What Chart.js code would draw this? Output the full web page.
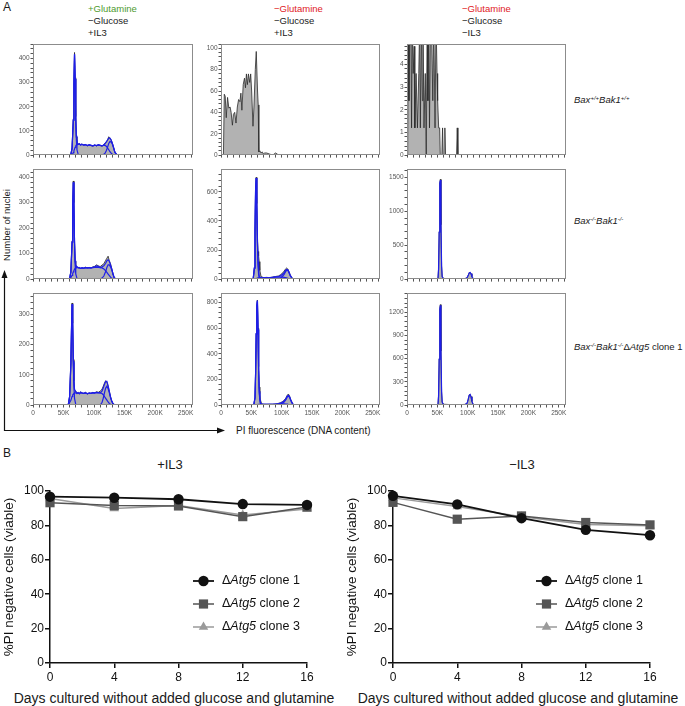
<!DOCTYPE html>
<html lang='en'>
<head>
<meta charset='UTF-8'>
<title>Cell cycle histograms and viability</title>
<script src='https://cdn.jsdelivr.net/npm/chart.js@4.4.1/dist/chart.umd.min.js'></script>
<style>
  body { margin: 0; background: #fff; font-family: 'Liberation Sans', Arial, sans-serif; color: #1a1a1a; }
  #fig { position: relative; width: 685px; height: 706px; overflow: hidden; background: #fff; }
  #fig canvas, .lbl { position: absolute; }
  .lbl { white-space: nowrap; }
  .hdr { top: 3px; font-size: 9.5px; line-height: 12px; color: #1a1a1a; }
  .rowlbl { left: 574px; font-size: 9.5px; line-height: 12px; }
  .rowlbl sup { font-size: 6px; vertical-align: 3.5px; line-height: 0; }
  .mid { transform: translate(-50%, -50%); }
</style>
</head>
<body>
<div id='fig'>
  <div class='lbl' style='left:3px;top:0px;font-size:12px'>A</div>
  <div class='lbl' style='left:3px;top:446px;font-size:12px'>B</div>

  <div class='lbl hdr' style='left:88px'><div style='color:#4e9a2e'>+Glutamine</div><div>&minus;Glucose</div><div>+IL3</div></div>
  <div class='lbl hdr' style='left:274px'><div style='color:#e0201e'>&minus;Glutamine</div><div>&minus;Glucose</div><div>+IL3</div></div>
  <div class='lbl hdr' style='left:462px'><div style='color:#e0201e'>&minus;Glutamine</div><div>&minus;Glucose</div><div>&minus;IL3</div></div>

  <div class='lbl rowlbl' style='top:94px'><i>Bax<sup>+/+</sup>Bak1<sup>+/+</sup></i></div>
  <div class='lbl rowlbl' style='top:215px'><i>Bax<sup>-/-</sup>Bak1<sup>-/-</sup></i></div>
  <div class='lbl rowlbl' style='top:341px'><i>Bax<sup>-/-</sup>Bak1<sup>-/-</sup></i>&Delta;<i>Atg5</i> clone 1</div>

  <div class='lbl' style='left:6px;top:225px;font-size:9.5px;transform:translate(-50%,-50%) rotate(-90deg)'>Number of nuclei</div>
  <div class='lbl' style='left:236px;top:425px;font-size:10px'>PI fluorescence (DNA content)</div>
  <svg class='lbl' style='left:0;top:0' width='685' height='706'>
    <line x1='4.5' y1='431' x2='4.5' y2='276' stroke='#111' stroke-width='1.2'/>
    <polygon points='4.5,270 1.5,278 7.5,278' fill='#111'/>
    <line x1='4' y1='430.5' x2='219' y2='430.5' stroke='#111' stroke-width='1.2'/>
    <polygon points='225,430.5 217,427.5 217,433.5' fill='#111'/>
  </svg>

  <div class='lbl mid' style='left:170px;top:464px;font-size:13px'>+IL3</div>
  <div class='lbl mid' style='left:522px;top:464px;font-size:13px'>&minus;IL3</div>
  <div class='lbl mid' style='left:174px;top:698px;font-size:14px'>Days cultured without added glucose and glutamine</div>
  <div class='lbl mid' style='left:518px;top:698px;font-size:14px'>Days cultured without added glucose and glutamine</div>
</div>
<script>
  // ---- Panel A: PI histograms (x in thousands of PI units) ----
  let piTickLabels = ['0', '50K', '100K', '150K', '200K', '250K'];

  // +Gln -Glc +IL3, Bax+/+Bak1+/+
  let h11_x     = [58, 60, 62, 64, 66, 67, 68, 69, 70, 71, 72, 74, 76, 78, 80, 83, 86, 89, 92, 95, 98, 101, 104, 107, 110, 113, 116, 118, 120, 122, 124, 126, 128, 130, 132, 134, 137, 140];
  let h11_count = [0, 0, 4, 30, 150, 300, 425, 320, 160, 75, 50, 45, 48, 42, 46, 41, 44, 38, 43, 40, 37, 42, 38, 43, 40, 37, 44, 48, 54, 62, 76, 70, 63, 50, 32, 14, 3, 0];
  let h11_fit   = [0, 0, 3, 28, 145, 295, 418, 315, 155, 80, 52, 46, 46, 43, 45, 42, 43, 40, 42, 40, 38, 41, 39, 42, 40, 38, 42, 48, 55, 62, 70, 70, 62, 48, 30, 12, 2, 0];
  let h11_g1    = [null, 0, 3, 28, 145, 295, 418, 315, 150, 62, 22, 3, 0, null, null, null, null, null, null, null, null, null, null, null, null, null, null, null, null, null, null, null, null, null, null, null, null, null];
  let h11_s     = [null, null, null, 0, 10, 18, 25, 32, 38, 42, 45, 44, 46, 42, 44, 41, 43, 39, 42, 40, 38, 41, 39, 42, 40, 38, 41, 40, 37, 30, 22, 14, 8, 3, 0, null, null, null];
  let h11_g2    = [null, null, null, null, null, null, null, null, null, null, null, null, null, null, null, null, null, null, null, null, null, null, null, null, null, 0, 3, 8, 18, 32, 48, 56, 54, 45, 30, 12, 2, 0];

  // -Gln -Glc +IL3, Bax+/+Bak1+/+
  let h12_x     = [4, 5.4, 7, 8.6, 10.8, 12.9, 15, 16.7, 18.8, 20.4, 22.6, 24.7, 26.9, 29, 31.2, 32.8, 34.4, 36.6, 38.7, 40.3, 41.9, 43.5, 45.2, 47.3, 48.9, 50.5, 52.7, 54.3, 56.5, 58.1, 60.2, 61.3, 62.4, 64, 66, 68, 70, 72, 75, 80, 85, 90, 95, 100];
  let h12_count = [0, 57, 55, 35, 54, 44, 45, 40, 28, 38, 40, 30, 45, 52, 50, 58, 42, 66, 72, 63, 76, 66, 76, 68, 76, 60, 27, 45, 80, 97, 60, 47, 3, 4, 2, 3, 1, 2, 2, 1, 0, 2, 0, 0];

  // -Gln -Glc -IL3, Bax+/+Bak1+/+
  let h13_x     = [1.1, 2.2, 3.2, 4.8, 6.5, 7.5, 8.6, 10.2, 11.8, 12.9, 15, 17.2, 19.4, 21, 22, 23.7, 25.3, 26.3, 28, 30.1, 31.7, 33.3, 34.4, 36, 37.1, 38.7, 40.3, 42.5, 44.1, 46.2, 47.8, 49.5, 50.5, 52.2, 53.8, 54.8, 57.5, 58.6, 59.7, 61.3, 62.4, 63.4, 81.7, 82.8, 83.9];
  let h13_count = [0, 6, 2.4, 6, 6, 1.2, 6, 3.6, 4.8, 1.2, 3.6, 1.2, 3.6, 6, 1.2, 6, 2.4, 6, 1.2, 3.6, 0, 6, 2.4, 6, 1.2, 6, 6, 2.4, 6, 1.2, 6, 3.6, 2.4, 1.2, 1.2, 0, 0, 1.2, 0, 0, 1.2, 0, 0, 1.2, 0];

  // +Gln -Glc +IL3, Bax-/-Bak1-/-
  let h21_x     = [56, 58, 60, 62, 64, 65, 66, 67, 68, 69, 70, 72, 74, 76, 78, 80, 83, 86, 89, 92, 95, 98, 101, 104, 107, 110, 113, 116, 119, 121, 123, 125, 127, 129, 131, 133, 136];
  let h21_count = [0, 0, 3, 30, 150, 290, 385, 300, 150, 70, 52, 48, 44, 46, 40, 45, 42, 47, 44, 46, 43, 48, 50, 56, 52, 49, 55, 60, 74, 82, 90, 72, 60, 42, 20, 6, 0];
  let h21_fit   = [0, 0, 2, 28, 145, 285, 380, 295, 145, 72, 54, 48, 45, 44, 42, 44, 43, 45, 44, 45, 44, 46, 48, 52, 50, 45, 48, 52, 62, 72, 76, 70, 56, 39, 20, 5, 0];
  let h21_g1    = [null, 0, 2, 28, 145, 285, 380, 295, 140, 55, 20, 3, 0, null, null, null, null, null, null, null, null, null, null, null, null, null, null, null, null, null, null, null, null, null, null, null, null];
  let h21_s     = [null, null, 0, 6, 15, 22, 28, 34, 38, 42, 44, 46, 45, 44, 42, 44, 43, 45, 44, 45, 44, 45, 46, 47, 46, 45, 44, 40, 32, 26, 20, 14, 8, 3, 0, null, null];
  let h21_g2    = [null, null, null, null, null, null, null, null, null, null, null, null, null, null, null, null, null, null, null, null, null, null, null, null, null, 0, 4, 12, 30, 46, 56, 56, 48, 36, 20, 5, 0];

  // -Gln -Glc +IL3, Bax-/-Bak1-/-
  let h22_x     = [50, 53, 55, 56, 57, 58, 59, 60, 61, 62, 63, 64, 66, 70, 75, 80, 85, 90, 95, 98, 101, 104, 106, 108, 110, 112, 114, 117, 120];
  let h22_count = [0, 0, 80, 330, 620, 700, 520, 300, 190, 160, 120, 60, 18, 10, 12, 10, 14, 18, 22, 30, 40, 55, 68, 76, 70, 52, 30, 8, 0];
  let h22_fit   = [0, 0, 75, 325, 615, 695, 510, 260, 120, 50, 20, 10, 8, 10, 11, 11, 12, 15, 18, 24, 32, 45, 58, 66, 64, 48, 26, 6, 0];
  let h22_g1    = [0, 0, 75, 325, 615, 695, 510, 250, 100, 30, 8, 2, 0, null, null, null, null, null, null, null, null, null, null, null, null, null, null, null, null];
  let h22_s     = [null, null, null, null, 0, 3, 5, 7, 8, 9, 10, 10, 8, 10, 11, 11, 12, 13, 14, 14, 13, 12, 10, 8, 6, 4, 2, 0, null];
  let h22_g2    = [null, null, null, null, null, null, null, null, null, null, null, null, null, null, null, null, null, null, 0, 6, 18, 32, 48, 60, 62, 44, 24, 6, 0];

  // -Gln -Glc -IL3, Bax-/-Bak1-/-
  let h23_x     = [48, 51, 52, 53, 54, 55, 56, 57, 58, 60, 70, 80, 90, 96, 99, 101, 102.5, 104, 105.5, 107, 109, 112];
  let h23_count = [0, 0, 150, 700, 1420, 1470, 800, 200, 40, 10, 6, 5, 6, 8, 20, 60, 95, 100, 80, 40, 8, 0];
  let h23_fit   = [0, 0, 140, 690, 1410, 1460, 790, 190, 35, 8, 6, 5, 6, 8, 18, 55, 90, 98, 78, 38, 6, 0];

  // +Gln -Glc +IL3, Bax-/-Bak1-/-dAtg5 clone 1
  let h31_x     = [54, 56, 58, 60, 62, 63, 64, 65, 66, 67, 68, 70, 72, 74, 76, 78, 80, 83, 86, 89, 92, 95, 98, 101, 104, 107, 110, 113, 115, 117, 119, 121, 123, 125, 127, 129, 131, 134];
  let h31_count = [0, 0, 4, 30, 140, 250, 337, 270, 150, 80, 50, 46, 38, 42, 36, 44, 40, 38, 42, 36, 40, 38, 42, 40, 44, 42, 46, 52, 62, 72, 80, 76, 62, 45, 28, 14, 5, 0];
  let h31_fit   = [0, 0, 3, 28, 138, 248, 334, 268, 145, 82, 52, 44, 40, 40, 38, 42, 40, 39, 40, 38, 39, 39, 41, 40, 42, 41, 40, 46, 56, 68, 78, 78, 64, 45, 26, 12, 4, 0];
  let h31_g1    = [null, 0, 3, 28, 135, 245, 332, 265, 140, 60, 22, 2, 0, null, null, null, null, null, null, null, null, null, null, null, null, null, null, null, null, null, null, null, null, null, null, null, null, null];
  let h31_s     = [null, null, 0, 8, 16, 22, 28, 33, 36, 38, 40, 40, 38, 40, 37, 41, 39, 38, 40, 37, 39, 38, 40, 39, 41, 40, 40, 38, 34, 28, 22, 16, 10, 5, 2, 0, null, null];
  let h31_g2    = [null, null, null, null, null, null, null, null, null, null, null, null, null, null, null, null, null, null, null, null, null, null, null, null, null, null, 0, 8, 22, 40, 56, 62, 54, 40, 24, 12, 4, 0];

  // -Gln -Glc +IL3, Bax-/-Bak1-/-dAtg5 clone 1
  let h32_x     = [50, 54, 56, 57, 58, 59, 60, 61, 62, 63, 64, 65, 67, 70, 75, 80, 85, 90, 94, 98, 101, 104, 107, 109, 111, 113, 115, 118, 121];
  let h32_count = [0, 0, 60, 250, 560, 780, 820, 600, 300, 140, 90, 40, 10, 6, 5, 6, 6, 8, 12, 18, 26, 36, 55, 75, 86, 70, 42, 10, 0];
  let h32_fit   = [0, 0, 55, 245, 555, 775, 815, 590, 280, 110, 50, 18, 6, 5, 5, 6, 6, 7, 10, 15, 22, 32, 50, 68, 76, 64, 38, 8, 0];
  let h32_g1    = [0, 0, 55, 245, 555, 775, 815, 590, 270, 95, 35, 8, 1, 0, null, null, null, null, null, null, null, null, null, null, null, null, null, null, null];
  let h32_s     = [null, null, null, 0, 2, 3, 4, 5, 6, 6, 6, 6, 5, 5, 5, 6, 6, 7, 8, 9, 9, 9, 8, 7, 5, 4, 2, 0, null];
  let h32_g2    = [null, null, null, null, null, null, null, null, null, null, null, null, null, null, null, null, null, null, 0, 6, 13, 23, 42, 61, 71, 60, 36, 8, 0];

  // -Gln -Glc -IL3, Bax-/-Bak1-/-dAtg5 clone 1
  let h33_x     = [48, 51, 52, 53, 54, 55, 56, 57, 58, 60, 70, 80, 90, 96, 99, 101, 102.5, 104, 105.5, 107, 109, 112];
  let h33_count = [0, 0, 120, 600, 1250, 1300, 700, 180, 40, 10, 6, 5, 6, 8, 25, 80, 130, 140, 110, 50, 8, 0];
  let h33_fit   = [0, 0, 115, 590, 1240, 1290, 690, 170, 35, 8, 6, 5, 6, 8, 22, 75, 125, 136, 105, 46, 6, 0];

  // ---- Panel B: viability (%PI negative) ----
  let days          = [0, 4, 8, 12, 16];
  let cloneLabels   = ['\u0394Atg5 clone 1', '\u0394Atg5 clone 2', '\u0394Atg5 clone 3'];
  let plusIL3_c1    = [96.7, 96.1, 95.2, 92.4, 91.9];
  let plusIL3_c2    = [93.2, 91.5, 91.3, 85.1, 90.7];
  let plusIL3_c3    = [95.7, 89.8, 91.6, 86.0, 89.5];
  let minusIL3_c1   = [97.2, 92.2, 84.2, 77.4, 74.3];
  let minusIL3_c2   = [93.4, 83.6, 85.5, 81.7, 80.3];
  let minusIL3_c3   = [96.0, 91.0, 85.0, 80.5, 79.8];

  Chart.defaults.font.family = "'Liberation Sans', Arial, sans-serif";

  let fig = document.getElementById('fig');
  let BLUE = '#1e1ee8';
  let colX = [33, 221, 407], colW = [160, 159, 159];
  let rowY = [44, 169, 293], rowH = [112, 111, 112];

  function pts(xs, ys) {
    let out = [];
    xs.forEach((x, i) => { if (ys[i] !== null && ys[i] !== undefined) out.push({x: x, y: ys[i]}); });
    return out;
  }

  function addCanvas(left, top, w, h) {
    let cv = document.createElement('canvas');
    cv.width = w; cv.height = h;
    cv.style.left = left + 'px'; cv.style.top = top + 'px';
    cv.style.width = w + 'px'; cv.style.height = h + 'px';
    fig.appendChild(cv);
    return cv;
  }

  // frame around each histogram
  let boxPlugin = {
    id: 'box',
    afterDraw(chart) {
      let a = chart.chartArea, c = chart.ctx;
      c.save();
      c.strokeStyle = '#8c8c8c';
      c.lineWidth = 1;
      c.strokeRect(Math.round(a.left) + 0.5, Math.round(a.top) + 0.5, Math.round(a.right - a.left) - 1, Math.round(a.bottom - a.top) - 1);
      c.restore();
    }
  };

  function isMajor(v, major) {
    return Math.abs(v / major - Math.round(v / major)) < 1e-6;
  }

  function histChart(p) {
    let showX = p.r === 2;
    let xH = showX ? 14 : 4;
    let w = colW[p.c], h = rowH[p.r];
    let cv = addCanvas(colX[p.c] - 30, rowY[p.r] - 6, 30 + w + 6, 6 + h + xH);
    let datasets = [];
    [p.g1, p.s, p.g2, p.fit].forEach(ys => {
      if (ys) datasets.push({data: pts(p.x, ys), borderColor: BLUE, borderWidth: 1.2, fill: false});
    });
    datasets.push({data: pts(p.x, p.count), borderColor: '#2a2a2a', borderWidth: 0.8, backgroundColor: '#b2b2b2', fill: 'origin'});

    new Chart(cv, {
      type: 'line',
      data: {datasets: datasets},
      options: {
        responsive: false,
        animation: false,
        layout: {padding: {top: 6, right: 6, left: 0, bottom: 0}},
        elements: {point: {radius: 0}, line: {tension: 0}},
        plugins: {legend: {display: false}, tooltip: {enabled: false}},
        scales: {
          x: {
            type: 'linear', min: 0, max: 262,
            border: {display: false},
            grid: {drawOnChartArea: false, tickLength: 2.5, color: '#555'},
            ticks: {
              stepSize: 10, autoSkip: false, maxRotation: 0, minRotation: 0, includeBounds: false,
              padding: 2, color: '#555', font: {size: 6.5},
              callback: v => (showX && v % 50 === 0) ? piTickLabels[v / 50] : ''
            },
            afterFit: s => { s.height = xH; }
          },
          y: {
            min: 0, max: p.ymax,
            border: {display: false},
            grid: {drawOnChartArea: false, tickLength: 2.5, color: '#555'},
            ticks: {
              stepSize: p.minor, autoSkip: false, includeBounds: false,
              padding: 1, color: '#555', font: {size: 6.5},
              callback: v => isMajor(v, p.major) ? String(Math.round(v / p.major) * p.major) : ''
            },
            afterFit: s => { s.width = 30; }
          }
        }
      },
      plugins: [boxPlugin]
    });
  }

  let panels = [
    {r: 0, c: 0, ymax: 460,  major: 100, minor: 20,  x: h11_x, count: h11_count, fit: h11_fit, g1: h11_g1, s: h11_s, g2: h11_g2},
    {r: 0, c: 1, ymax: 104,  major: 20,  minor: 4,   x: h12_x, count: h12_count},
    {r: 0, c: 2, ymax: 4.9,  major: 1,   minor: 0.2, x: h13_x, count: h13_count},
    {r: 1, c: 0, ymax: 432,  major: 100, minor: 20,  x: h21_x, count: h21_count, fit: h21_fit, g1: h21_g1, s: h21_s, g2: h21_g2},
    {r: 1, c: 1, ymax: 757,  major: 200, minor: 40,  x: h22_x, count: h22_count, fit: h22_fit, g1: h22_g1, s: h22_s, g2: h22_g2},
    {r: 1, c: 2, ymax: 1622, major: 500, minor: 100, x: h23_x, count: h23_count, fit: h23_fit},
    {r: 2, c: 0, ymax: 370,  major: 100, minor: 20,  x: h31_x, count: h31_count, fit: h31_fit, g1: h31_g1, s: h31_s, g2: h31_g2},
    {r: 2, c: 1, ymax: 875,  major: 200, minor: 40,  x: h32_x, count: h32_count, fit: h32_fit, g1: h32_g1, s: h32_s, g2: h32_g2},
    {r: 2, c: 2, ymax: 1450, major: 300, minor: 60,  x: h33_x, count: h33_count, fit: h33_fit}
  ];
  panels.forEach(histChart);

  // ---- Panel B charts ----
  let cloneColors = ['#111111', '#555555', '#9a9a9a'];
  let cloneStyles = ['circle', 'rect', 'triangle'];
  let cloneRadius = [5.2, 6.5, 5.5];

  function drawMarker(c, style, x, y, r, color) {
    c.fillStyle = color;
    c.beginPath();
    if (style === 'circle') {
      c.arc(x, y, r, 0, Math.PI * 2);
    } else if (style === 'rect') {
      let s = r / Math.SQRT2;
      c.rect(x - s, y - s, 2 * s, 2 * s);
    } else {
      c.moveTo(x, y - r);
      c.lineTo(x + r * Math.sin(Math.PI * 2 / 3), y + r / 2);
      c.lineTo(x - r * Math.sin(Math.PI * 2 / 3), y + r / 2);
      c.closePath();
    }
    c.fill();
  }

  let cloneLegend = {
    id: 'cloneLegend',
    afterDatasetsDraw(chart) {
      let a = chart.chartArea, c = chart.ctx;
      chart.data.datasets.forEach((ds, i) => {
        let y = a.top + 90 + i * 23;
        let x0 = a.left + 143;
        c.save();
        c.strokeStyle = ds.borderColor;
        c.lineWidth = ds.borderWidth;
        c.beginPath(); c.moveTo(x0, y); c.lineTo(x0 + 21, y); c.stroke();
        drawMarker(c, ds.pointStyle, x0 + 10.5, y, ds.pointRadius, ds.backgroundColor);
        let m = ds.label.match(/^(\u0394)(\S+)(.*)$/);
        let tx = x0 + 29;
        c.fillStyle = '#111';
        c.textBaseline = 'middle';
        c.font = "12.5px 'Liberation Sans', Arial, sans-serif";
        c.fillText(m[1], tx, y); tx += c.measureText(m[1]).width;
        c.font = "italic 12.5px 'Liberation Sans', Arial, sans-serif";
        c.fillText(m[2], tx, y); tx += c.measureText(m[2]).width;
        c.font = "12.5px 'Liberation Sans', Arial, sans-serif";
        c.fillText(m[3], tx, y);
        c.restore();
      });
    }
  };

  function viabilityChart(left, series) {
    let cv = addCanvas(left, 478, 340, 210);
    new Chart(cv, {
      type: 'line',
      data: {
        datasets: series.map((vals, i) => ({
          label: cloneLabels[i],
          data: days.map((d, j) => ({x: d, y: vals[j]})),
          borderColor: cloneColors[i],
          backgroundColor: cloneColors[i],
          borderWidth: i === 0 ? 1.8 : 1.5,
          pointStyle: cloneStyles[i],
          pointRadius: cloneRadius[i],
          pointBorderWidth: 0,
          tension: 0,
          clip: false
        }))
      },
      options: {
        responsive: false,
        animation: false,
        layout: {padding: {top: 13, right: 33, left: 0, bottom: 0}},
        plugins: {legend: {display: false}, tooltip: {enabled: false}},
        scales: {
          x: {
            type: 'linear', min: 0, max: 16,
            border: {color: '#111', width: 1.5},
            grid: {drawOnChartArea: false, tickLength: 5, color: '#111', lineWidth: 1.5},
            ticks: {stepSize: 4, color: '#111', font: {size: 12}, padding: 2, maxRotation: 0},
            afterFit: s => { s.height = 25; }
          },
          y: {
            min: 0, max: 100,
            border: {color: '#111', width: 1.5},
            grid: {drawOnChartArea: false, tickLength: 5, color: '#111', lineWidth: 1.5},
            ticks: {stepSize: 20, color: '#111', font: {size: 12}, padding: 1},
            title: {display: true, text: '%PI negative cells (viable)', color: '#111', font: {size: 13.5}, padding: {top: 1, bottom: 0}},
            afterFit: s => { s.width = 50; }
          }
        }
      },
      plugins: [cloneLegend]
    });
  }

  viabilityChart(0,   [plusIL3_c1, plusIL3_c2, plusIL3_c3]);
  viabilityChart(343, [minusIL3_c1, minusIL3_c2, minusIL3_c3]);
</script>
</body>
</html>
